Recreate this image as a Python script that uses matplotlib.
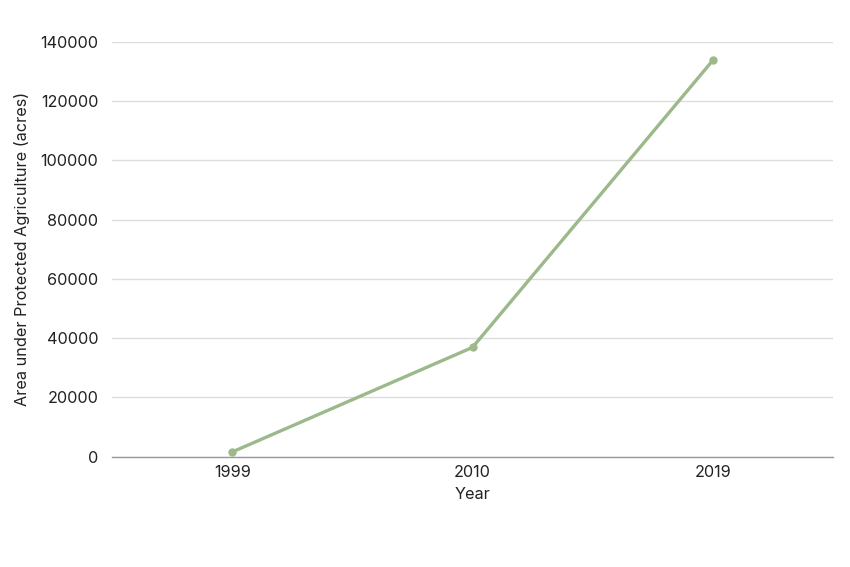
import matplotlib
matplotlib.use("Agg")
import matplotlib.pyplot as plt

years = ["1999", "2010", "2019"]
area = [1600, 36900, 133800]
yticks = [0, 20000, 40000, 60000, 80000, 100000, 120000, 140000]

plt.rcParams['font.family'] = ['Inter', 'DejaVu Sans']

fig = plt.figure(figsize=(8.5, 5.67), dpi=100)
ax = fig.add_axes([0.1318, 0.1945, 0.98 - 0.1318, 0.926 - 0.1945])

x = list(range(len(years)))
ax.plot(x, area, color="#9cb98b", linewidth=2.4, marker="o", markersize=5,
        solid_capstyle="round", zorder=3)

ax.set_xlim(-0.5, len(years) - 0.5)
ax.set_ylim(0, 140000)
ax.set_yticks(yticks)
ax.set_yticklabels([str(v) for v in yticks])
ax.set_xticks(x)
ax.set_xticklabels(years)

ax.grid(axis="y", color="#dcdcdc", linewidth=1)
ax.set_axisbelow(True)
for s in ["top", "right", "left"]:
    ax.spines[s].set_visible(False)
ax.spines["bottom"].set_color("#999999")
ax.spines["bottom"].set_linewidth(1)
ax.tick_params(axis="both", length=0, labelsize=11.7, colors="#222222", pad=6)
ax.tick_params(axis="y", pad=10)

ax.set_xlabel("Year", fontsize=11.7, color="#222222", labelpad=5)
ax.set_ylabel("Area under Protected Agriculture (acres)", fontsize=11.7,
              color="#222222", labelpad=7)

fig.savefig("out.png", dpi=100, facecolor="white")
